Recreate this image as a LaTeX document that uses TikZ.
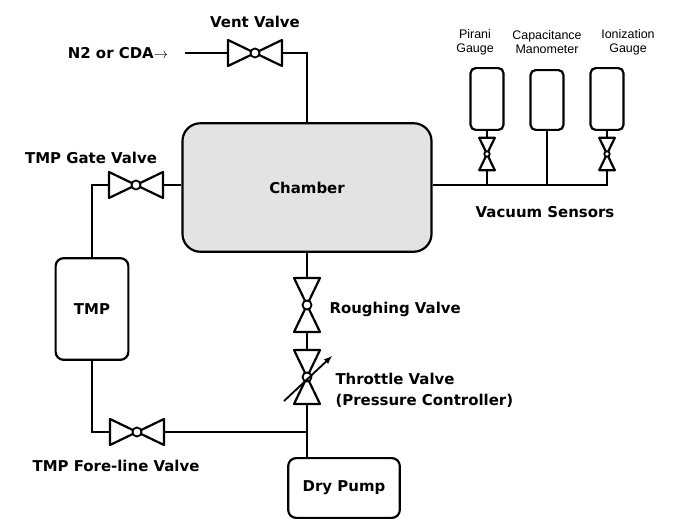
\documentclass[tikz,border=0pt]{standalone}
\usepackage{fontspec}
\setmainfont{Liberation Sans}
\newfontfamily\lblfont{DejaVu Sans}
\begin{document}
\begin{tikzpicture}[x=1bp,y=-1bp,
  line/.style={line width=2.6},
  box/.style={draw,line width=2.2,rounded corners=8,inner sep=0},
  lbl/.style={font=\lblfont\bfseries\fontsize{15}{18}\selectfont},
  sml/.style={font=\fontsize{12.5}{14}\selectfont,align=center},
  valve/.pic={\draw[fill=white,line width=2.2,line join=round] (-27,-13)--(-27,13)--(27,-13)--(27,13)--cycle;
              \draw[fill=white,line width=1.8] (0,0) circle (4.5);}]
\useasboundingbox (0,0) rectangle (673,528);
% nodes
\node[box,fill=gray!22,minimum width=250,minimum height=129,rounded corners=18] (ch) at (307,187.5) {};
\node[lbl] at (307,187.5) {Chamber};
\node[box,minimum width=73,minimum height=102] (tmp) at (92,309) {};
\node[lbl] at (92,309) {TMP};
\node[box,minimum width=112,minimum height=60] (dp) at (344,488) {};
\node[lbl] at (344,488) {Dry Pump};
\node[box,rounded corners=5,minimum width=33,minimum height=62] (g1) at (487,99) {};
\node[box,rounded corners=5,minimum width=33,minimum height=60] (g2) at (547,100) {};
\node[box,rounded corners=5,minimum width=33,minimum height=62] (g3) at (607,99) {};
% coordinates
\coordinate (n2) at (185,53);
\coordinate (vc) at (307,53);
\coordinate (tg) at (92,185);
\coordinate (fl) at (92,432);
\coordinate (jn) at (307,432);
\coordinate (sr) at (607,185);
% lines
\draw[line] (n2) -- (vc) -- (vc|-ch.north);
\draw[line] (ch.west|-tg) -- (tg) -- (tmp.north);
\draw[line] (tmp.south) -- (fl) -- (jn);
\draw[line] (307,252) -- (307,458);
\draw[line] (ch.east|-sr) -- (sr) -- (g3.south);
\draw[line] (g1.south) -- (487,185);
\draw[line] (g2.south) -- (547,185);
% valves
\pic at (255,53) {valve};
\pic at (136,185) {valve};
\pic at (137,432) {valve};
\pic[rotate=90] at (307,305) {valve};
\pic[rotate=90] at (307,377) {valve};
\pic[rotate=90,scale=0.6] at (487,154) {valve};
\pic[rotate=90,scale=0.6] at (607,154) {valve};
\draw[line width=1.8,-latex] (284,401) -- (332,356);
% labels
\node[lbl] at (118,53) {N2 or CDA$\rightarrow$};
\node[lbl] at (255,22) {Vent Valve};
\node[lbl] at (91,158) {TMP Gate Valve};
\node[lbl] at (116,466) {TMP Fore-line Valve};
\node[lbl,anchor=west] at (326,309) {Roughing Valve};
\node[lbl,anchor=west] at (332,379) {Throttle Valve};
\node[lbl,anchor=west] at (332,401) {(Pressure Controller)};
\node[lbl] at (545,212) {Vacuum Sensors};
\node[sml] at (475,42) {Pirani\\Gauge};
\node[sml] at (547,42) {Capacitance\\Manometer};
\node[sml] at (628,42) {Ionization\\Gauge};
\end{tikzpicture}
\end{document}
